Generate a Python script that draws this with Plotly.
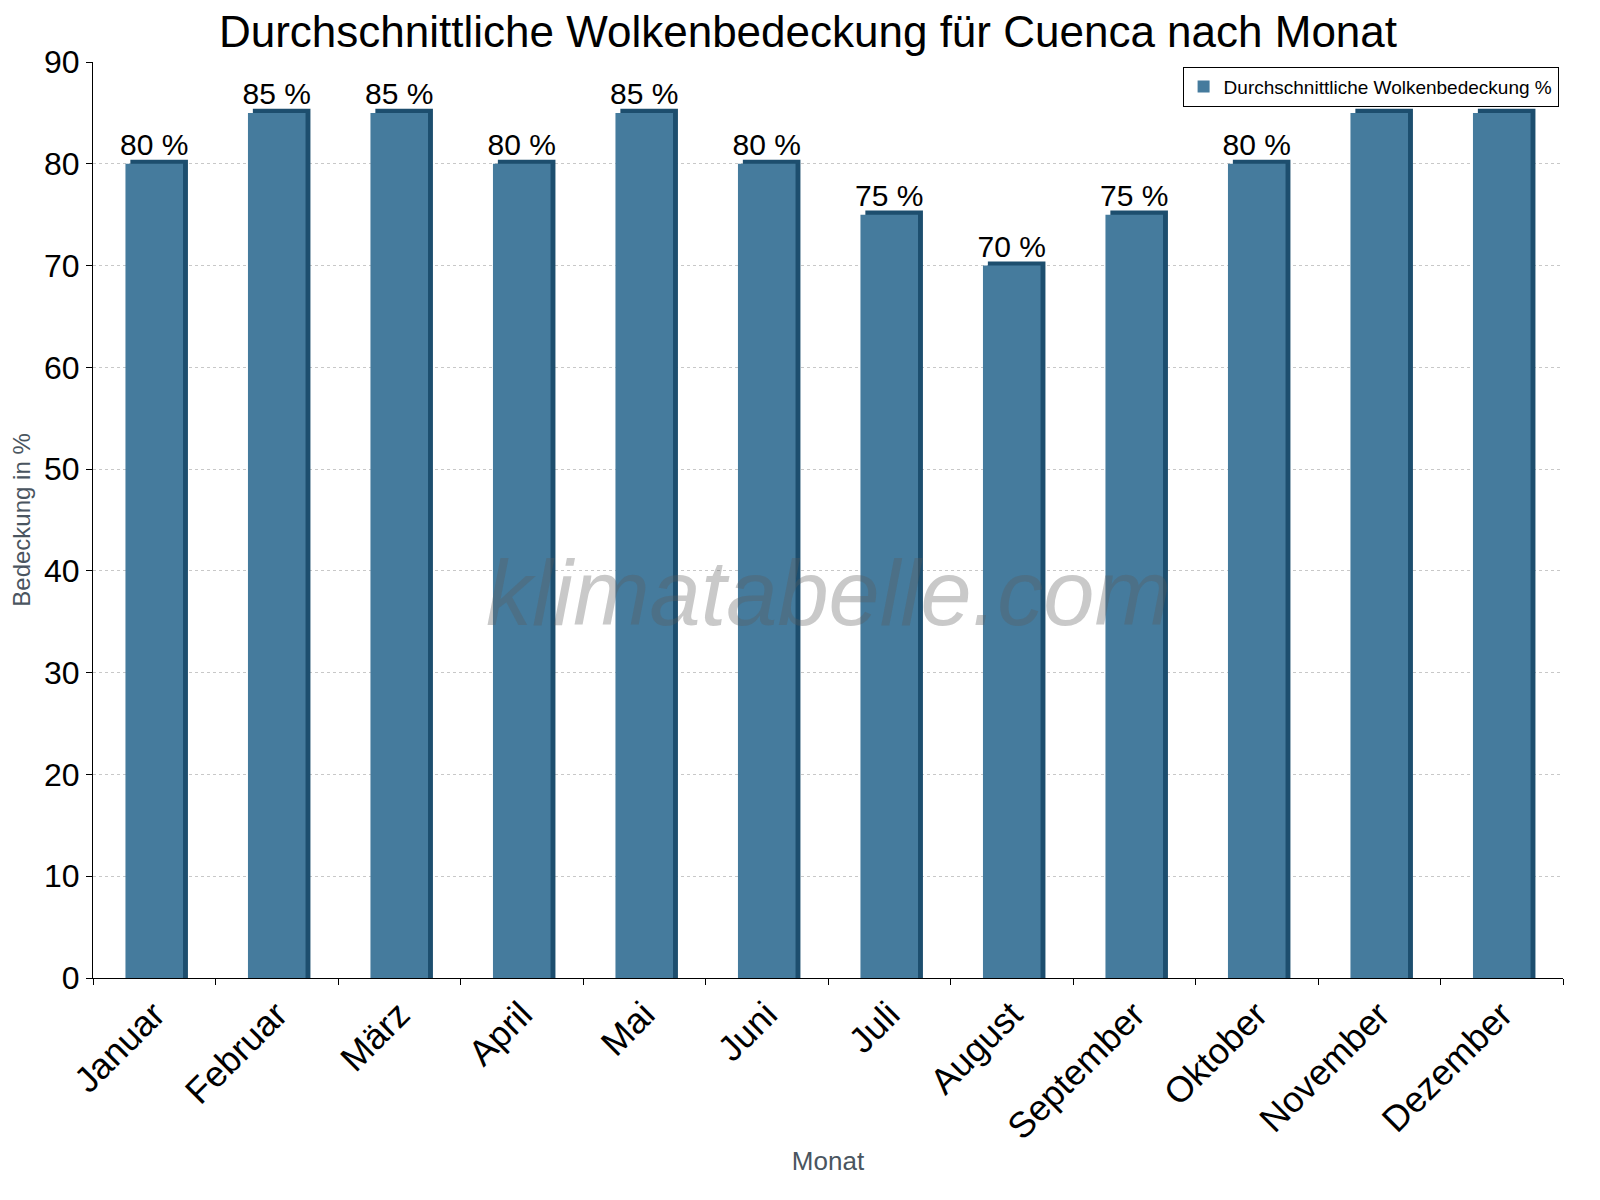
import plotly.graph_objects as go

months = ["Januar","Februar","März","April","Mai","Juni","Juli","August","September","Oktober","November","Dezember"]
cover = [80,85,85,80,85,80,75,70,75,80,85,85]
labels = [f"{v} %" for v in cover]

fig = go.Figure()
fig.add_trace(go.Bar(x=months, y=[v+0.4 for v in cover], width=0.47, offset=-0.235+0.04,
                     marker=dict(color="#1d4e6e", line=dict(width=0)), showlegend=False, hoverinfo="skip"))
fig.add_trace(go.Bar(x=months, y=cover, width=0.47, offset=-0.235, name="Durchschnittliche Wolkenbedeckung %",
                     marker=dict(color="#457b9d", line=dict(width=0)),
                     text=labels, textposition="outside", cliponaxis=False, constraintext="none",
                     textfont=dict(size=30, color="black", family="Liberation Sans")))
fig.update_layout(
    barmode="overlay", width=1600, height=1200, plot_bgcolor="white", paper_bgcolor="white",
    margin=dict(l=85, r=45, t=54, b=230),
    font=dict(family="Liberation Sans", color="black"),
    title=dict(text="Durchschnittliche Wolkenbedeckung für Cuenca nach Monat", x=0.5, xanchor="center",
               y=0.993, yanchor="top", font=dict(size=44)),
    legend=dict(x=0.997, y=0.995, xanchor="right", yanchor="top", bordercolor="black", borderwidth=1,
                font=dict(size=19), bgcolor="white", itemsizing="constant"),
    annotations=[dict(text="<i>klimatabelle.com</i>", x=0.5, y=0.42, xref="paper", yref="paper",
                      showarrow=False, font=dict(size=92, color="rgba(90,90,90,0.33)", family="Liberation Sans"))],
)
fig.update_xaxes(title=dict(text="Monat", font=dict(size=26, color="#4a5560"), standoff=5), tickangle=-45,
                 tickfont=dict(size=36), showline=True, linecolor="black", ticks="outside",
                 tickson="boundaries", ticklen=6, tickcolor="black")
fig.update_yaxes(title=dict(text="Bedeckung in %", font=dict(size=24, color="#4a5560"), standoff=8), range=[0,90],
                 dtick=10, tickfont=dict(size=32), showline=True, linecolor="black", ticks="outside",
                 ticklen=6, tickcolor="black", gridcolor="#c8c8c8", griddash="dot", zeroline=False)
fig.write_html("out.html")
